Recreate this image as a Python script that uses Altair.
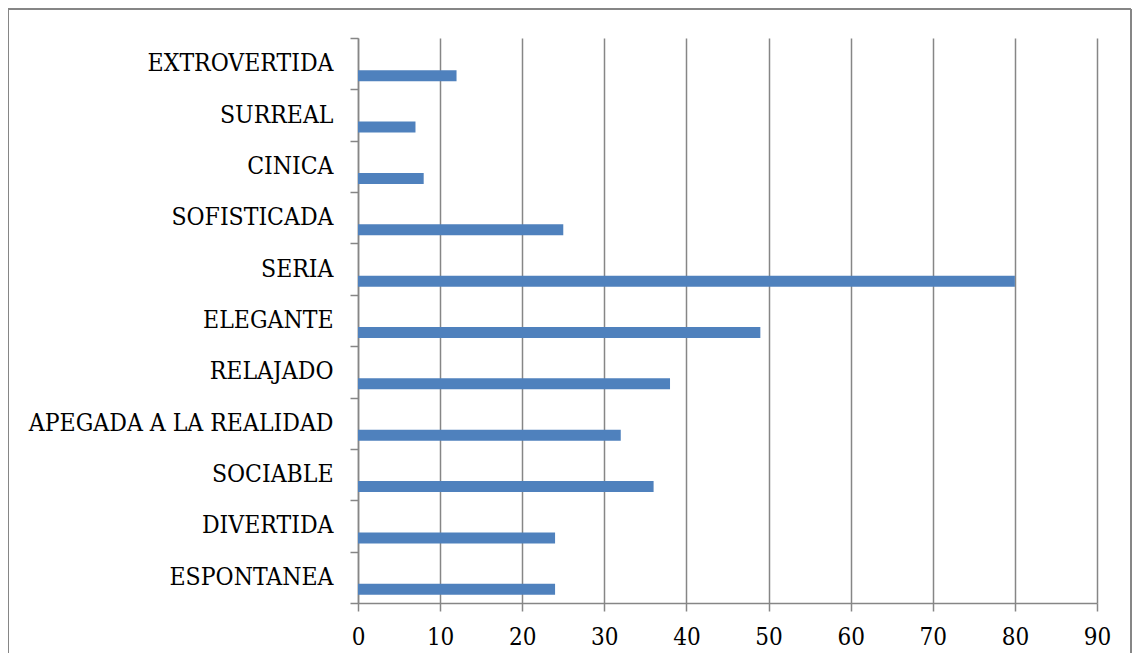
import altair as alt
import pandas as pd

categories = ["EXTROVERTIDA", "SURREAL", "CINICA", "SOFISTICADA", "SERIA", "ELEGANTE",
              "RELAJADO", "APEGADA A LA REALIDAD", "SOCIABLE", "DIVERTIDA", "ESPONTANEA"]
values = [12, 7, 8, 25, 80, 49, 38, 32, 36, 24, 24]
x_ticks = [0, 10, 20, 30, 40, 50, 60, 70, 80, 90]

df = pd.DataFrame({"cat": categories, "val": values})
GREY = "#868686"
FONT = "DejaVu Serif Condensed"

bars = alt.Chart(df).mark_bar(color="#4F81BD", size=11, yOffset=12).encode(
    x=alt.X("val:Q",
            scale=alt.Scale(domain=[0, 90], nice=False),
            axis=alt.Axis(values=x_ticks, title=None, grid=True, gridColor=GREY, gridWidth=1.5,
                          domainColor=GREY, domainWidth=1.5, tickColor=GREY, tickSize=8,
                          tickWidth=1.5, labelFont=FONT, labelFontSize=24, labelColor="black",
                          labelPadding=14, labelFlush=False)),
    y=alt.Y("cat:N", sort=categories,
            scale=alt.Scale(paddingInner=0, paddingOuter=0),
            axis=alt.Axis(title=None, grid=False, tickBand="extent", domainColor=GREY,
                          domainWidth=1.5, tickColor=GREY, tickSize=8, tickWidth=1.5,
                          labelFont=FONT, labelFontSize=24.5, labelColor="black",
                          labelPadding=17, labelLimit=400)),
)

one = pd.DataFrame({"a": [0]})
frame_left = alt.Chart(one).mark_rule(color=GREY, strokeWidth=2).encode(
    x=alt.value(-350), y=alt.value(-29), y2=alt.value(700))
frame_top = alt.Chart(one).mark_rule(color=GREY, strokeWidth=2).encode(
    x=alt.value(-350), x2=alt.value(773), y=alt.value(-29))
frame_right = alt.Chart(one).mark_rule(color=GREY, strokeWidth=2).encode(
    x=alt.value(773), y=alt.value(-29), y2=alt.value(700))

chart = alt.layer(bars, frame_left, frame_top, frame_right).properties(
    width=739, height=565,
    autosize=alt.AutoSizeParams(type="none"),
    padding={"left": 350, "top": 30, "right": 35, "bottom": 50},
    background="white",
).configure_view(stroke=None)

chart.save("out.html", embed_options={"renderer": "svg", "actions": False})
